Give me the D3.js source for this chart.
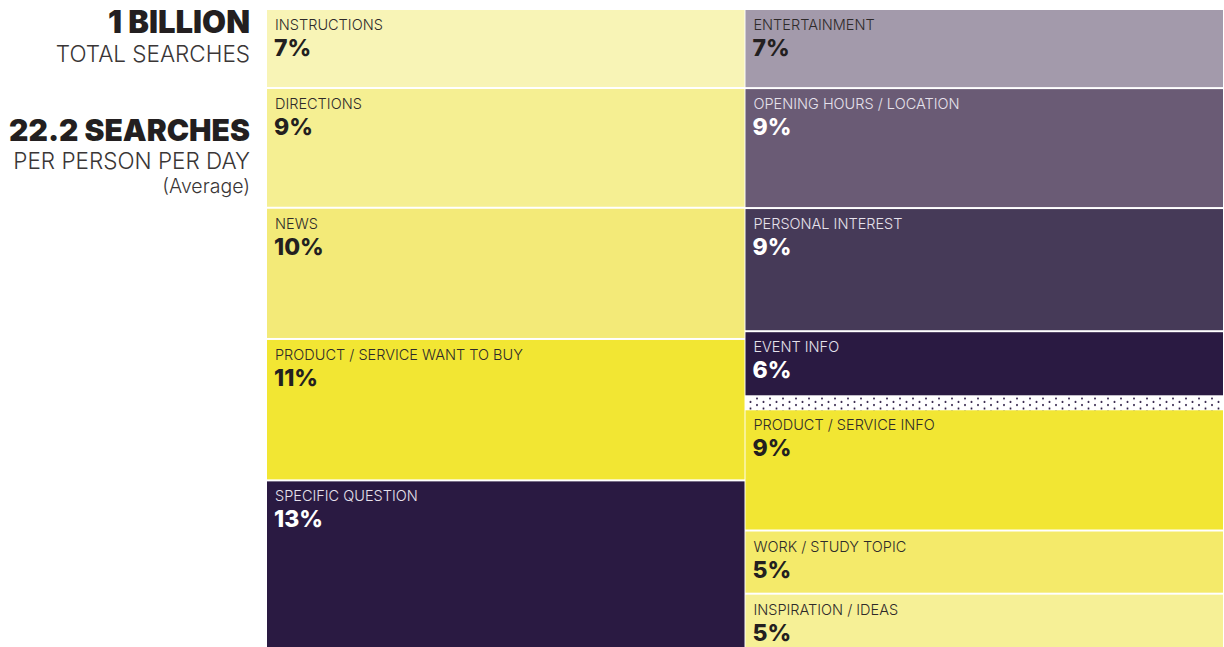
<!DOCTYPE html>
<html>
<head>
<meta charset="utf-8">
<script src="https://cdn.jsdelivr.net/npm/d3@7"></script>
<style>
  body { margin: 0; background: #fff; }
  svg { display: block; font-family: Inter, "Noto Sans", sans-serif; }
</style>
</head>
<body>
<div id="chart"></div>
<script>
// left column
const leftCats = ["INSTRUCTIONS", "DIRECTIONS", "NEWS", "PRODUCT / SERVICE WANT TO BUY", "SPECIFIC QUESTION"];
const leftLabels = ["7%", "9%", "10%", "11%", "13%"];
const leftShares = [6.2, 9.4, 10.3, 11.1, 13.0];   // tile sizes as drawn
const leftColors = ["#f8f4b6", "#f5ef92", "#f3ea78", "#f2e633", "#2a1a42"];

// right column (the dotted band sits between EVENT INFO and PRODUCT / SERVICE INFO)
const rightCats = ["ENTERTAINMENT", "OPENING HOURS / LOCATION", "PERSONAL INTEREST", "EVENT INFO",
                   "PRODUCT / SERVICE INFO", "WORK / STUDY TOPIC", "INSPIRATION / IDEAS"];
const rightLabels = ["7%", "9%", "9%", "6%", "9%", "5%", "5%"];
const rightShares = [6.2, 9.4, 9.65, 5.1, 9.5, 4.95, 4.1];
const rightColors = ["#a39aab", "#6a5b75", "#463a58", "#2a1a42", "#f2e633", "#f4ea6a", "#f6f096"];

const W = 1224, H = 647;
const yTop = 10, yBottom = 647, gap = 2;
const dotBand = 13;

const svg = d3.select("#chart").append("svg")
    .attr("width", W)
    .attr("height", H);

const defs = svg.append("defs");
const pat = defs.append("pattern")
    .attr("id", "dots")
    .attr("width", 13)
    .attr("height", 6.5)
    .attr("patternUnits", "userSpaceOnUse");
pat.append("circle").attr("cx", 3).attr("cy", 2).attr("r", 1).attr("fill", "#2a1a42");
pat.append("circle").attr("cx", 9.5).attr("cy", 5.5).attr("r", 1).attr("fill", "#2a1a42");

const x = d3.scaleBand()
    .domain(["left", "right"])
    .range([267, 1223])
    .paddingInner(0.002);

function isDark(c) {
    return d3.hsl(c).l < 0.5;
}

function column(key, cats, labels, shares, colors, breakAfter) {
    const total = d3.sum(shares);
    const extra = breakAfter != null ? dotBand : 0;
    const y = d3.scaleLinear()
        .domain([0, total])
        .range([yTop, yBottom - extra]);

    let acc = 0;
    const tiles = shares.map((s, i) => {
        const off = breakAfter != null && i > breakAfter ? extra : 0;
        const t = { cat: cats[i], label: labels[i], color: colors[i],
                    y0: y(acc) + off, y1: y(acc + s) + off };
        acc += s;
        return t;
    });

    const g = svg.append("g");
    const cell = g.selectAll("g.tile")
        .data(tiles)
        .enter()
        .append("g")
        .attr("class", "tile");

    cell.append("rect")
        .attr("x", x(key))
        .attr("y", d => d.y0)
        .attr("width", x.bandwidth())
        .attr("height", (d, i) => d.y1 - d.y0 - (i < tiles.length - 1 ? gap : 0))
        .style("fill", d => d.color);

    cell.append("text")
        .attr("x", x(key) + 8)
        .attr("y", d => d.y0 + 20)
        .style("font-size", "14.5px")
        .style("font-weight", 300)
        .style("fill", d => isDark(d.color) ? "#e6e2ec" : "#2e2a2a")
        .text(d => d.cat);

    cell.append("text")
        .attr("x", x(key) + 7)
        .attr("y", d => d.y0 + 46)
        .style("font-size", "23px")
        .style("font-weight", 800)
        .style("fill", d => isDark(d.color) ? "#ffffff" : "#231f20")
        .text(d => d.label);

    if (breakAfter != null) {
        const b = tiles[breakAfter];
        g.append("rect")
            .attr("x", x(key))
            .attr("y", b.y1)
            .attr("width", x.bandwidth())
            .attr("height", dotBand)
            .style("fill", "url(#dots)");
    }
}

column("left", leftCats, leftLabels, leftShares, leftColors, null);
column("right", rightCats, rightLabels, rightShares, rightColors, 3);

// headline figures on the left
const head = svg.append("g").attr("text-anchor", "end");
head.append("text").attr("x", 250).attr("y", 33)
    .style("font-size", "31px").style("font-weight", 900).style("fill", "#231f20")
    .text("1 BILLION");
head.append("text").attr("x", 250).attr("y", 62)
    .style("font-size", "22.5px").style("font-weight", 300).style("fill", "#3a3636")
    .text("TOTAL SEARCHES");
head.append("text").attr("x", 250).attr("y", 141)
    .style("font-size", "30px").style("font-weight", 900).style("fill", "#231f20")
    .text("22.2 SEARCHES");
head.append("text").attr("x", 250).attr("y", 169)
    .style("font-size", "22.5px").style("font-weight", 300).style("fill", "#3a3636")
    .text("PER PERSON PER DAY");
head.append("text").attr("x", 250).attr("y", 193)
    .style("font-size", "19.5px").style("font-weight", 300).style("fill", "#3a3636")
    .text("(Average)");
</script>
</body>
</html>
